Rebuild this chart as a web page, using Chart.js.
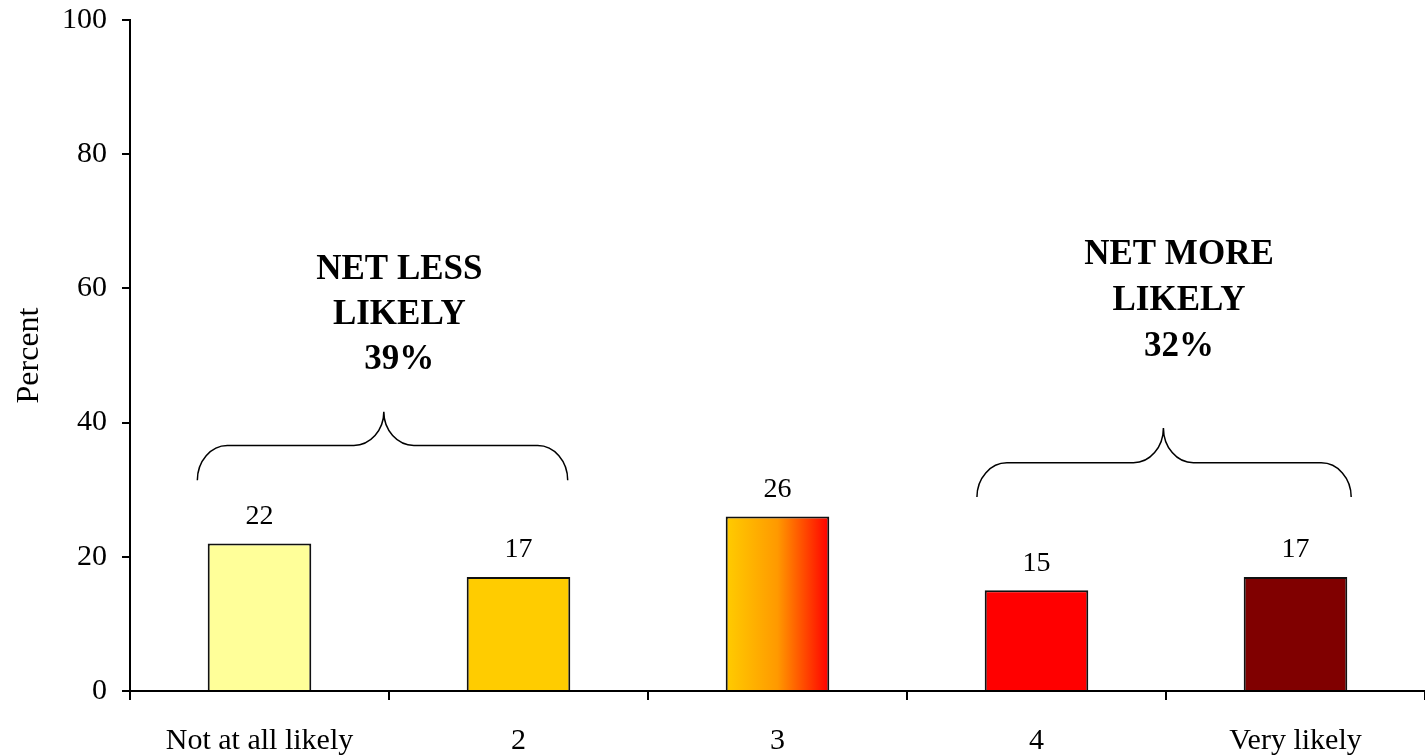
<!DOCTYPE html>
<html>
<head>
<meta charset="utf-8">
<script src="https://cdn.jsdelivr.net/npm/chart.js@4/dist/chart.umd.min.js"></script>
<style>
  html, body { margin: 0; padding: 0; background: #fff; }
  #wrap { width: 1425px; height: 755px; }
</style>
</head>
<body>
<div id="wrap"><canvas id="grafico"></canvas></div>
<script>
const categorias = ['Not at all likely', '2', '3', '4', 'Very likely'];
const valores = [22, 17, 26, 15, 17];
const cores = ['#ffff99', '#ffcc00', 'gradiente', '#ff0000', '#800000'];
const ticksY = [0, 20, 40, 60, 80, 100];
const grupos = [
    { linhas: ['NET LESS', 'LIKELY', '39%'] },
    { linhas: ['NET MORE', 'LIKELY', '32%'] }
];

const fonte = '"Liberation Serif", "Times New Roman", serif';

function corBarra(ctx) {
    const c = cores[ctx.dataIndex];
    if (c !== 'gradiente') return c;
    const x = ctx.chart.scales.x;
    if (!x || !x.width) return '#ffcc00';
    const centro = x.getPixelForValue(ctx.dataIndex);
    const meia = (x.width / categorias.length) * 0.4 / 2;
    const g = ctx.chart.ctx.createLinearGradient(centro - meia, 0, centro + meia, 0);
    g.addColorStop(0, '#ffcc00');
    g.addColorStop(0.5, '#ff9900');
    g.addColorStop(1, '#ff0000');
    return g;
}

// rotulos de valor acima das barras
const rotulos = {
    id: 'rotulos',
    afterDatasetsDraw(chart) {
        const ctx = chart.ctx;
        const meta = chart.getDatasetMeta(0);
        ctx.save();
        ctx.font = '28px ' + fonte;
        ctx.fillStyle = '#000';
        ctx.textAlign = 'center';
        ctx.textBaseline = 'middle';
        meta.data.forEach((bar, i) => {
            ctx.fillText(String(valores[i]), bar.x, bar.y - 27);
        });
        ctx.restore();
    }
};

// chaves e textos NET
function chave(ctx, x1, x2, xm, yFim, yLinha, yTopo) {
    const r = 30;
    ctx.beginPath();
    ctx.moveTo(x1, yFim);
    ctx.bezierCurveTo(x1, yLinha + (yFim - yLinha) * 0.45, x1 + r * 0.45, yLinha, x1 + r, yLinha);
    ctx.lineTo(xm - r, yLinha);
    ctx.bezierCurveTo(xm - r * 0.45, yLinha, xm, yLinha - (yLinha - yTopo) * 0.45, xm, yTopo);
    ctx.bezierCurveTo(xm, yLinha - (yLinha - yTopo) * 0.45, xm + r * 0.45, yLinha, xm + r, yLinha);
    ctx.lineTo(x2 - r, yLinha);
    ctx.bezierCurveTo(x2 - r * 0.45, yLinha, x2, yLinha + (yFim - yLinha) * 0.45, x2, yFim);
    ctx.stroke();
}

const anotacoes = {
    id: 'anotacoes',
    afterDraw(chart) {
        const ctx = chart.ctx;
        const xs = chart.scales.x, ys = chart.scales.y;
        const px = v => xs.getPixelForValue(0) + v * (xs.getPixelForValue(1) - xs.getPixelForValue(0));
        const posChaves = [
            { a: -0.24, b: 1.19, m: 0.48, fim: 31.4, linha: 36.6, topo: 41.6 },
            { a: 2.77, b: 4.215, m: 3.49, fim: 28.9, linha: 34.0, topo: 39.2 }
        ];
        const posTextos = [
            { x: 0.54, y: [62.8, 56.1, 49.4] },
            { x: 3.55, y: [65.0, 58.2, 51.2] }
        ];
        ctx.save();
        ctx.strokeStyle = '#000';
        ctx.lineWidth = 1.5;
        posChaves.forEach(p => {
            chave(ctx, px(p.a), px(p.b), px(p.m), ys.getPixelForValue(p.fim), ys.getPixelForValue(p.linha), ys.getPixelForValue(p.topo));
        });
        ctx.font = 'bold 35px ' + fonte;
        ctx.fillStyle = '#000';
        ctx.textAlign = 'center';
        ctx.textBaseline = 'middle';
        grupos.forEach((g, i) => {
            g.linhas.forEach((t, j) => {
                ctx.fillText(t, px(posTextos[i].x), ys.getPixelForValue(posTextos[i].y[j]));
            });
        });
        ctx.restore();
    }
};

const data = {
    labels: categorias,
    datasets: [{
        data: valores,
        backgroundColor: corBarra,
        borderColor: '#111',
        borderWidth: 2,
        categoryPercentage: 1,
        barPercentage: 0.4
    }]
};

const config = {
    type: 'bar',
    data: data,
    options: {
        responsive: true,
        maintainAspectRatio: false,
        animation: false,
        layout: { padding: { top: 20, right: 0, left: 0, bottom: 0 } },
        plugins: {
            legend: { display: false },
            tooltip: { enabled: false }
        },
        scales: {
            x: {
                grid: { display: true, drawOnChartArea: false, drawTicks: true, tickLength: 9, color: '#000', lineWidth: 2, offset: true },
                border: { display: true, color: '#000', width: 2 },
                ticks: { color: '#000', font: { family: fonte, size: 30 }, padding: 23, maxRotation: 0 },
                afterFit(scale) {
                    scale.height = 64;
                    scale.paddingLeft = 0;
                    scale.paddingRight = 0;
                }
            },
            y: {
                min: 0,
                max: 100,
                afterBuildTicks(scale) { scale.ticks = ticksY.map(v => ({ value: v })); },
                grid: { display: true, drawOnChartArea: false, drawTicks: true, tickLength: 8, color: '#000', lineWidth: 2 },
                border: { display: true, color: '#000', width: 2 },
                ticks: { color: '#000', font: { family: fonte, size: 30 }, padding: 15 },
                title: { display: true, text: 'Percent', color: '#000', font: { family: fonte, size: 32 }, padding: { top: 10, bottom: 0 } },
                afterFit(scale) {
                    scale.width = 130;
                    scale.paddingTop = 0;
                    scale.paddingBottom = 0;
                }
            }
        }
    },
    plugins: [rotulos, anotacoes]
};

const grafico = new Chart(document.getElementById('grafico'), config);
</script>
</body>
</html>
